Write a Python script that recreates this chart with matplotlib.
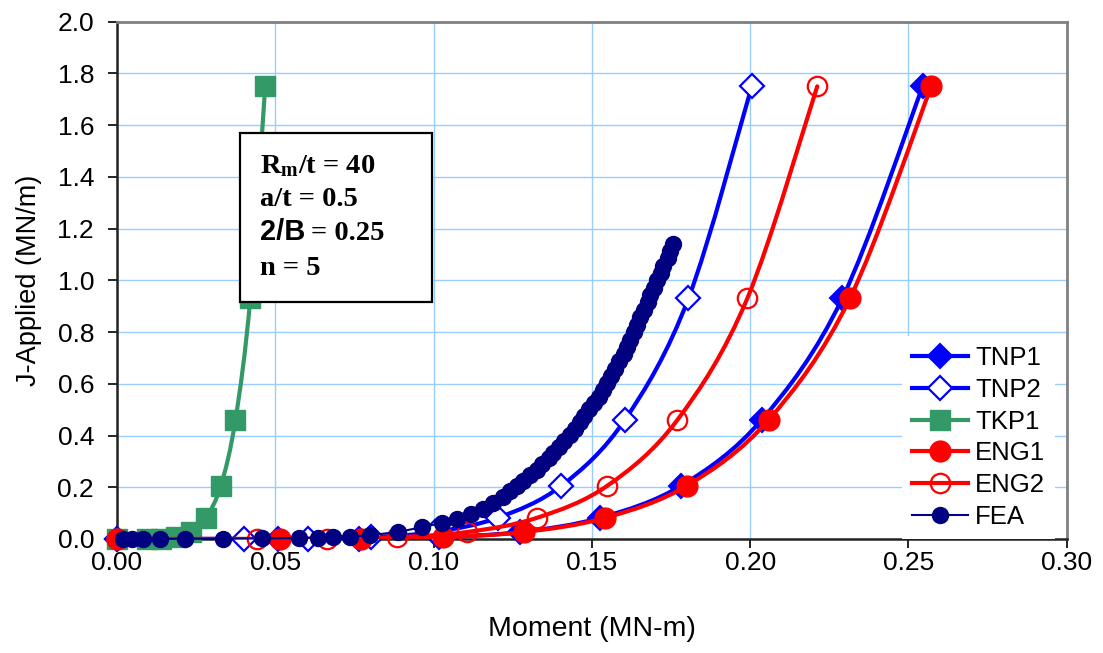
import numpy as np
import matplotlib
matplotlib.use('Agg')
from matplotlib import pyplot as plt
from matplotlib.path import Path
from matplotlib.patches import PathPatch, Rectangle
from matplotlib.lines import Line2D

plt.rcParams['font.family'] = ['Liberation Sans', 'DejaVu Sans']
plt.rcParams['mathtext.fontset'] = 'custom'
plt.rcParams['mathtext.rm'] = 'Liberation Serif'
plt.rcParams['mathtext.bf'] = 'Liberation Serif:bold'

# applied J levels shared by the estimation schemes (MN/m)
j_levels = [0.0, 0.0001, 0.0013, 0.007, 0.027, 0.082, 0.206, 0.46, 0.93, 1.75]

# moment (MN-m) at each J level
m_tnp1 = [0.0, 0.0509, 0.0764, 0.1018, 0.1273, 0.1527, 0.1782, 0.2036, 0.2291, 0.2545]
m_tnp2 = [0.0, 0.0401, 0.0602, 0.0802, 0.1003, 0.1203, 0.1404, 0.1604, 0.1805, 0.2005]
m_tkp1 = [0.0, 0.0094, 0.0140, 0.0187, 0.0234, 0.0281, 0.0328, 0.0374, 0.0421, 0.0468]
m_eng1 = [0.0, 0.0514, 0.0772, 0.1029, 0.1286, 0.1543, 0.1800, 0.2058, 0.2315, 0.2572]
m_eng2 = [0.0, 0.0442, 0.0664, 0.0885, 0.1106, 0.1327, 0.1549, 0.1770, 0.1991, 0.2212]

# finite element result
fea_m = [0.0019, 0.0047, 0.0082, 0.0136, 0.0215, 0.0335, 0.0458, 0.0575, 0.0635, 0.0683,
         0.0737, 0.0800, 0.0888, 0.0964, 0.1028, 0.1075, 0.1119, 0.1157, 0.1189, 0.1220,
         0.1242, 0.1265, 0.1284, 0.1306, 0.1328, 0.1344, 0.1363, 0.1378, 0.1397, 0.1413,
         0.1432, 0.1448, 0.1461, 0.1476, 0.1492, 0.1508, 0.1521, 0.1536, 0.1549, 0.1562,
         0.1574, 0.1587, 0.1600, 0.1612, 0.1622, 0.1634, 0.1644, 0.1653, 0.1666, 0.1676,
         0.1685, 0.1695, 0.1707, 0.1717, 0.1726, 0.1739, 0.1748, 0.1756]
fea_j = [0.0, 0.0, 0.0, 0.0, 0.001, 0.001, 0.002, 0.004, 0.005, 0.007,
         0.009, 0.015, 0.027, 0.046, 0.062, 0.077, 0.097, 0.116, 0.139, 0.162,
         0.186, 0.205, 0.224, 0.248, 0.267, 0.290, 0.313, 0.333, 0.356, 0.379,
         0.402, 0.426, 0.453, 0.476, 0.503, 0.526, 0.549, 0.577, 0.604, 0.631,
         0.658, 0.689, 0.716, 0.743, 0.770, 0.801, 0.828, 0.859, 0.886, 0.917,
         0.944, 0.971, 1.002, 1.029, 1.056, 1.087, 1.114, 1.142]

x_ticks = [0.00, 0.05, 0.10, 0.15, 0.20, 0.25, 0.30]
y_ticks = [0.0, 0.2, 0.4, 0.6, 0.8, 1.0, 1.2, 1.4, 1.6, 1.8, 2.0]

BLUE = '#0000FF'
RED = '#FF0000'
GREEN = '#339966'
NAVY = '#000080'


def smooth_path(x, y):
    # cubic bezier pieces through every point (catmull-rom style smoothing)
    pts = np.column_stack([x, y])
    n = len(pts)
    verts = [pts[0]]
    codes = [Path.MOVETO]
    for i in range(n - 1):
        p0 = pts[i - 1] if i > 0 else pts[i]
        p1 = pts[i]
        p2 = pts[i + 1]
        p3 = pts[i + 2] if i + 2 < n else pts[i + 1]
        verts += [p1 + (p2 - p0) / 6, p2 - (p3 - p1) / 6, p2]
        codes += [Path.CURVE4] * 3
    return Path(verts, codes)


series = [
    ('TNP1', m_tnp1, BLUE, dict(marker='D', ms=12.5, mfc=BLUE, mec=BLUE, mew=1.5)),
    ('TNP2', m_tnp2, BLUE, dict(marker='D', ms=12.5, mfc='white', mec=BLUE, mew=1.6)),
    ('TKP1', m_tkp1, GREEN, dict(marker='s', ms=14, mfc=GREEN, mec=GREEN, mew=1)),
    ('ENG1', m_eng1, RED, dict(marker='o', ms=15, mfc=RED, mec=RED, mew=1)),
    ('ENG2', m_eng2, RED, dict(marker='o', ms=14, mfc='none', mec=RED, mew=1.6)),
]

fig = plt.figure(figsize=(11.03, 6.53), dpi=100)
ax = fig.add_axes([0.1061, 0.1746, 0.8610, 0.7922])

handles = []
for k, (name, m, color, mk) in enumerate(series):
    ax.add_patch(PathPatch(smooth_path(m, j_levels), fill=False, edgecolor=color,
                           lw=3, capstyle='round', joinstyle='round', zorder=3 + k))
    ax.plot(m, j_levels, ls='none', zorder=3.5 + k, clip_on=False, **mk)
    handles.append(Line2D([], [], color=color, lw=3, label=name, **mk))

ax.plot(fea_m, fea_j, '-', color=NAVY, lw=1.5, marker='o', ms=11.5,
        mfc=NAVY, mec=NAVY, zorder=9, clip_on=False)
handles.append(Line2D([], [], color=NAVY, lw=1.5, marker='o', ms=11.5,
                      mfc=NAVY, mec=NAVY, label='FEA'))

ax.set_xlim(0, 0.30)
ax.set_ylim(0, 2.0)
ax.set_xticks(x_ticks)
ax.set_yticks(y_ticks)
ax.set_xticklabels(['%.2f' % v for v in x_ticks])
ax.set_yticklabels(['%.1f' % v for v in y_ticks])
ax.grid(True, color='#99CCFF', lw=1)
ax.set_axisbelow(True)

for side in ['top', 'right']:
    ax.spines[side].set_color('#808080')
    ax.spines[side].set_linewidth(2)
for side in ['left', 'bottom']:
    ax.spines[side].set_color('#222222')
    ax.spines[side].set_linewidth(1.8)

ax.tick_params(axis='both', direction='out', length=6.5, width=1.2, color='black',
               labelsize=19)
ax.tick_params(axis='y', pad=10)
ax.tick_params(axis='x', pad=2)

ax.set_xlabel('Moment (MN-m)', fontsize=20.5, labelpad=30)
ax.set_ylabel('J-Applied (MN/m)', fontsize=19.5, labelpad=11)

leg = ax.legend(handles=handles, loc='lower right', bbox_to_anchor=(0.988, 0.0),
                borderaxespad=0, fontsize=18.5, frameon=True, fancybox=False,
                edgecolor='none', framealpha=1, handlelength=2.2, handletextpad=0.25,
                labelspacing=0.3, borderpad=0.4)
leg.set_zorder(20)

# parameter box
ax.add_patch(Rectangle((0.1295, 0.4581), 0.2022, 0.3268, transform=ax.transAxes,
                       facecolor='white', edgecolor='black', lw=1.6, zorder=15))
serif = dict(family='Liberation Serif', weight='bold', fontsize=20.5,
             transform=ax.transAxes, va='baseline', ha='left', zorder=16)
ax.text(0.1506, 0.7075, r'$\mathbf{R_m}$/t = 40', **serif)
ax.text(0.1506, 0.6437, 'a/t = 0.5', **serif)
ax.text(0.1506, 0.5780, '2/B', family='Liberation Sans', weight='bold', fontsize=21,
        transform=ax.transAxes, va='baseline', ha='left', zorder=16)
ax.text(0.2040, 0.5780, '= 0.25', **serif)
ax.text(0.1506, 0.5103, 'n = 5', **serif)

fig.savefig('out.png', dpi=100)
